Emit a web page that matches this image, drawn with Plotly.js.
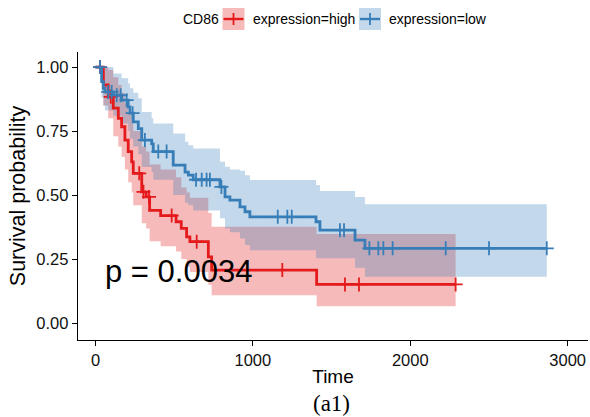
<!DOCTYPE html>
<html><head><meta charset="utf-8">
<script src="https://cdn.plot.ly/plotly-3.0.1.min.js"></script>
<style>html,body{margin:0;padding:0;background:#fff}#chart{width:590px;height:417px}</style>
</head><body><div id="chart"></div>
<script>
// ---- data ----
const groupTitle = "CD86";
const seriesNames = ["expression=high", "expression=low"];

const timeHigh  = [0, 50, 81, 113, 145, 166, 187, 208, 230, 240, 294, 322, 344, 414, 512, 545, 579, 600, 717, 738, 1405, 2288];
const survHigh  = [1, 0.93, 0.884, 0.84, 0.80, 0.767, 0.715, 0.67, 0.63, 0.585, 0.513, 0.493, 0.44, 0.42, 0.396, 0.37, 0.337, 0.318, 0.259, 0.207, 0.151, 0.151];
const upperHigh = [1, 1, 0.99, 0.96, 0.93, 0.90, 0.86, 0.82, 0.79, 0.75, 0.69, 0.67, 0.62, 0.60, 0.57, 0.53, 0.51, 0.49, 0.43, 0.376, 0.348, 0.348];
const lowerHigh = [1, 0.85, 0.80, 0.73, 0.69, 0.65, 0.60, 0.55, 0.51, 0.46, 0.39, 0.37, 0.32, 0.30, 0.28, 0.25, 0.22, 0.20, 0.15, 0.109, 0.066, 0.066];
const censorHigh = [29, 97, 278, 305, 340, 484, 643, 1187, 1585, 1674, 2288];

const timeLow  = [0, 39, 50, 60, 113, 166, 208, 219, 240, 272, 294, 357, 367, 494, 569, 590, 621, 791, 823, 854, 918, 950, 981, 1401, 1426, 1649, 1712, 2867];
const survLow  = [1, 0.943, 0.917, 0.903, 0.89, 0.871, 0.845, 0.82, 0.786, 0.76, 0.715, 0.70, 0.67, 0.617, 0.59, 0.578, 0.56, 0.532, 0.493, 0.48, 0.454, 0.435, 0.415, 0.396, 0.363, 0.324, 0.292, 0.292];
const upperLow = [1, 1, 1, 1, 0.975, 0.956, 0.936, 0.917, 0.90, 0.878, 0.825, 0.80, 0.78, 0.741, 0.708, 0.695, 0.682, 0.63, 0.611, 0.60, 0.595, 0.578, 0.559, 0.539, 0.516, 0.493, 0.464, 0.464];
const lowerLow = [1, 0.88, 0.85, 0.83, 0.81, 0.78, 0.75, 0.72, 0.69, 0.66, 0.61, 0.59, 0.56, 0.50, 0.47, 0.46, 0.44, 0.41, 0.37, 0.355, 0.33, 0.305, 0.285, 0.253, 0.253, 0.216, 0.181, 0.181];
const censorLow = [29, 81, 103, 135, 160, 198, 236, 314, 399, 452, 639, 675, 706, 727, 800, 1158, 1219, 1247, 1553, 1579, 1740, 1797, 1829, 1888, 2225, 2500, 2867];

const xTicks = [0, 1000, 2000, 3000];
const yTicks = [0, 0.25, 0.5, 0.75, 1];
const pText = "p = 0.0034";
const caption = "(a1)";

// ---- styling ----
const RED = "#E41A1C", BLUE = "#377EB8";
const RED_FILL = "rgba(228,26,28,0.3)", BLUE_FILL = "rgba(55,126,184,0.3)";
const FONT = "Liberation Sans, Arial, sans-serif";

function stepAt(times, surv, t){ let s = surv[0]; for (let i=0;i<times.length;i++){ if (times[i] <= t) s = surv[i]; } return s; }

function band(times, lo, hi, fill){
  return [
    {x: times, y: lo, mode: "lines", line: {width: 0, shape: "hv", color: "rgba(0,0,0,0)"}, showlegend: false, hoverinfo: "skip"},
    {x: times, y: hi, mode: "lines", line: {width: 0, shape: "hv", color: "rgba(0,0,0,0)"}, fill: "tonexty", fillcolor: fill, showlegend: false, hoverinfo: "skip"}
  ];
}
function curve(times, surv, color){
  return {x: times, y: surv, mode: "lines", line: {width: 2.8, shape: "hv", color: color}, showlegend: false};
}
function censors(ct, times, surv, color){
  return {x: ct, y: ct.map(t => stepAt(times, surv, t)), mode: "markers",
    marker: {symbol: "cross-thin", size: 10, color: color, line: {width: 1.8, color: color}}, showlegend: false};
}

const traces = [
  ...band(timeHigh, lowerHigh, upperHigh, RED_FILL),
  ...band(timeLow, lowerLow, upperLow, BLUE_FILL),
  curve(timeHigh, survHigh, RED),
  curve(timeLow, survLow, BLUE),
  censors(censorHigh, timeHigh, survHigh, RED),
  censors(censorLow, timeLow, survLow, BLUE)
];

// pixel -> paper helpers for the legend block
const L = 78, R = 588, T = 52, B = 340;
const px = v => (v - L) / (R - L);
const py = v => (B - v) / (B - T);

const shapes = [];
const annotations = [];
function legendKey(x0, color, fill){
  shapes.push({type: "rect", xref: "paper", yref: "paper", x0: px(x0), x1: px(x0 + 22), y0: py(30), y1: py(8), fillcolor: fill, line: {width: 0}});
  shapes.push({type: "line", xref: "paper", yref: "paper", x0: px(x0 + 1), x1: px(x0 + 21), y0: py(19), y1: py(19), line: {color: color, width: 2.4}});
  shapes.push({type: "line", xref: "paper", yref: "paper", x0: px(x0 + 11), x1: px(x0 + 11), y0: py(13), y1: py(25), line: {color: color, width: 1.8}});
}
legendKey(222.5, RED, RED_FILL);
legendKey(359, BLUE, BLUE_FILL);
annotations.push({xref: "paper", yref: "paper", x: px(181), y: py(19), xanchor: "left", yanchor: "middle", text: groupTitle, showarrow: false, font: {family: FONT, size: 14, color: "#000"}});
annotations.push({xref: "paper", yref: "paper", x: px(251), y: py(19), xanchor: "left", yanchor: "middle", text: seriesNames[0], showarrow: false, font: {family: FONT, size: 14, color: "#000"}});
annotations.push({xref: "paper", yref: "paper", x: px(387), y: py(19), xanchor: "left", yanchor: "middle", text: seriesNames[1], showarrow: false, font: {family: FONT, size: 14, color: "#000"}});
annotations.push({xref: "x", yref: "y", x: 50, y: 0.2, xanchor: "left", yanchor: "middle", text: pText, showarrow: false, font: {family: FONT, size: 31, color: "#000"}});
annotations.push({xref: "paper", yref: "paper", x: px(331), y: py(403), xanchor: "center", yanchor: "middle", text: caption, showarrow: false, font: {family: "Liberation Serif, Times New Roman, serif", size: 23, color: "#000"}});

const axisCommon = {showgrid: false, zeroline: false, showline: true, linecolor: "#000", linewidth: 1.3,
  ticks: "outside", ticklen: 5, tickwidth: 1.1, tickcolor: "#000", tickfont: {family: FONT, size: 16.5, color: "#111"}};

const layout = {
  width: 590, height: 417,
  margin: {l: L, r: 590 - R, t: T, b: 417 - B},
  paper_bgcolor: "#fff", plot_bgcolor: "#fff",
  showlegend: false,
  xaxis: Object.assign({}, axisCommon, {range: [-111, 3129], tickvals: xTicks, ticktext: xTicks.map(String),
    title: {text: "Time", font: {family: FONT, size: 19, color: "#000"}, standoff: 1}}),
  yaxis: Object.assign({}, axisCommon, {range: [-0.066, 1.059], tickvals: yTicks, ticktext: yTicks.map(v => v.toFixed(2)),
    title: {text: "Survival probability", font: {family: FONT, size: 21.5, color: "#000"}, standoff: 4}}),
  shapes: shapes,
  annotations: annotations
};

Plotly.newPlot("chart", traces, layout, {displayModeBar: false, staticPlot: true});
</script></body></html>
